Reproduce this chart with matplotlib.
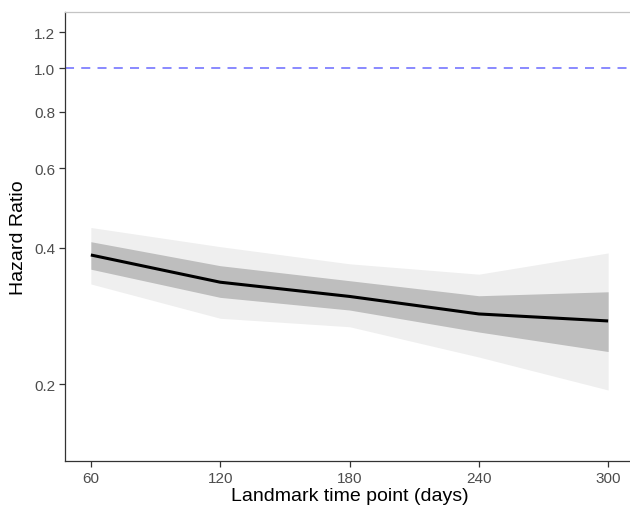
import matplotlib
matplotlib.use("Agg")
import matplotlib.pyplot as plt
from matplotlib.ticker import FixedLocator, NullLocator

plt.rcParams['font.family'] = ['Liberation Sans', 'DejaVu Sans']

days = [60, 120, 180, 240, 300]
hr = [0.386, 0.336, 0.3125, 0.2858, 0.2758]
inner_lo = [0.359, 0.311, 0.2916, 0.2607, 0.236]
inner_hi = [0.413, 0.3655, 0.3386, 0.3136, 0.320]
outer_lo = [0.333, 0.2796, 0.2678, 0.2295, 0.194]
outer_hi = [0.444, 0.4027, 0.369, 0.350, 0.390]
yticks = [0.2, 0.4, 0.6, 0.8, 1.0, 1.2]
ytick_labels = ["0.2", "0.4", "0.6", "0.8", "1.0", "1.2"]
xticks = [60, 120, 180, 240, 300]

W, H = 630, 510
fig = plt.figure(figsize=(W/100, H/100), dpi=100)
left, right, bottom, top = 65, 634, 462, 13
ax = fig.add_axes([left/W, 1-bottom/H, (right-left)/W, (bottom-top)/H])

ax.fill_between(days, outer_lo, outer_hi, color='#efefef', lw=0)
ax.fill_between(days, inner_lo, inner_hi, color='#bebebe', lw=0)
ax.plot(days, hr, color='black', lw=2.2, solid_capstyle='butt')
ax.axhline(1.0, color='#8080ff', lw=1.3, dashes=(5, 4))

ax.set_yscale('log')
ax.set_ylim(0.1351, 1.3314)
ax.set_xlim(48, 312)
ax.yaxis.set_major_locator(FixedLocator(yticks))
ax.yaxis.set_minor_locator(NullLocator())
ax.set_yticklabels(ytick_labels)
ax.set_xticks(xticks)

for s in ['left', 'bottom']:
    ax.spines[s].set_color('#333333')
    ax.spines[s].set_linewidth(0.9)
ax.spines['right'].set_visible(False)
ax.spines['top'].set_color('#c4c4c4')
ax.spines['top'].set_linewidth(0.9)

ax.tick_params(axis='both', length=4, width=0.9, color='#333333',
               labelcolor='#4d4d4d', labelsize=11, pad=3)
ax.set_ylabel('Hazard Ratio', fontsize=14, color='black', labelpad=5)
ax.set_xlabel('Landmark time point (days)', fontsize=14, color='black', labelpad=2)

fig.savefig('out.png', dpi=100)
